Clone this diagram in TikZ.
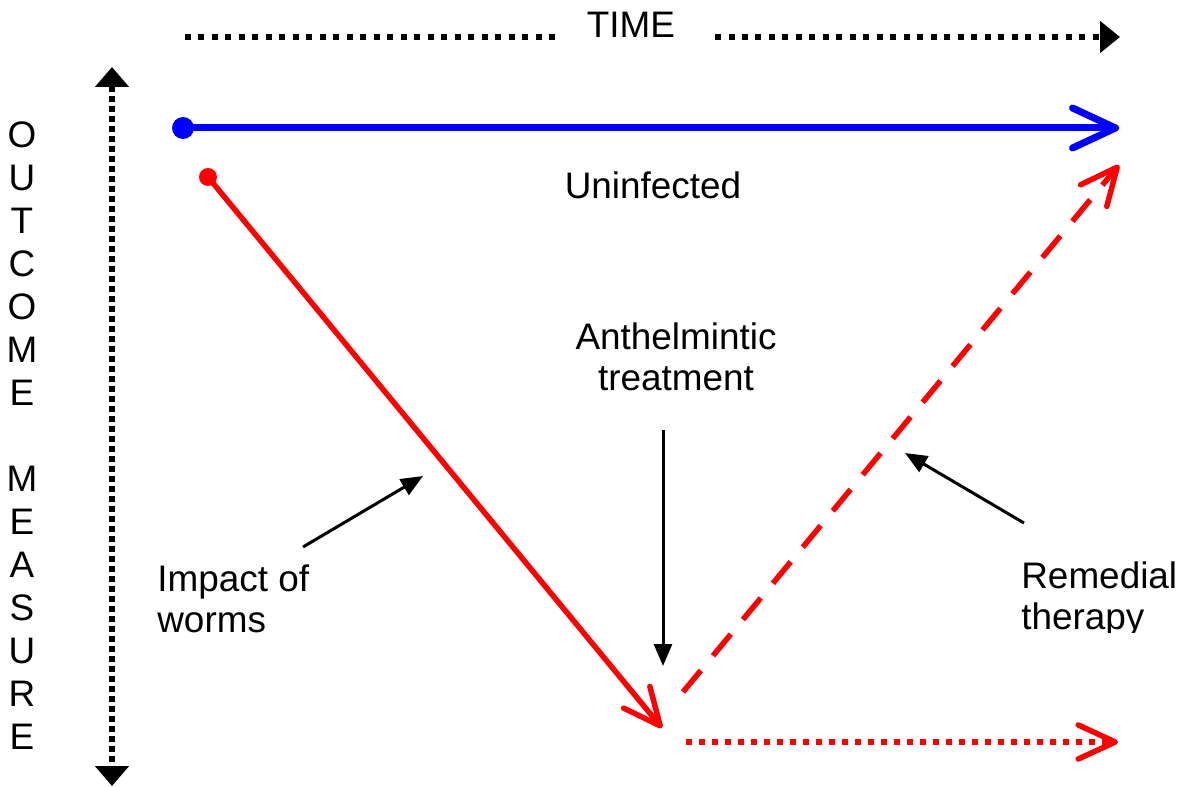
\documentclass[tikz,border=0pt]{standalone}
\usepackage{fontspec}
\setmainfont{Liberation Sans}
\usetikzlibrary{arrows.meta}
\definecolor{pblue}{RGB}{0,0,255}
\definecolor{pred}{RGB}{255,0,0}
\begin{document}
\begin{tikzpicture}[x=0.02cm,y=-0.02cm,
  lbl/.style={font=\fontsize{21}{23.8}\selectfont, inner sep=0pt},
  timeline/.style={line width=0.12cm, dash pattern=on 0.12cm off 0.15cm},
  axisline/.style={line width=0.12cm, dash pattern=on 0.12cm off 0.08cm},
  bighead/.style={-{Triangle[length=0.4cm,width=0.62cm]}},
  blueline/.style={pblue, line width=0.14cm, -{Straight Barb[length=0.86cm,width=0.8cm,round]}},
  redline/.style={pred, line width=0.11cm, -{Straight Barb[length=0.74cm,width=0.68cm,round]}},
  reddash/.style={redline, dash pattern=on 0.56cm off 0.38cm},
  reddot/.style={redline, dash pattern=on 0.12cm off 0.14cm},
  pointer/.style={black, line width=0.06cm, -{Triangle[length=0.44cm,width=0.36cm]}},
  dotnode/.style={circle, inner sep=0pt}
]
\useasboundingbox (0,0) rectangle (1194,787);

% time axis
\node[lbl, anchor=base] (time) at (631,38) {TIME};
\coordinate (tl0) at (185,37);
\coordinate (tl1) at (560,37);
\coordinate (tr0) at (715,37);
\coordinate (tr1) at (1120,37);
\draw[timeline] (tl0) -- (tl1);
\draw[timeline, bighead] (tr0) -- (tr1);

% outcome axis
\coordinate (vtop) at (112,67);
\coordinate (vbot) at (112,786);
\draw[axisline, {Triangle[length=0.4cm,width=0.66cm]}-{Triangle[length=0.4cm,width=0.66cm]}] (vtop) -- (vbot);

\foreach \ch/\yy [count=\i] in {O/135,U/178,T/221,C/264,O/307,M/350,E/393,M/479,E/522,A/565,S/608,U/651,R/694,E/737}
  \node[lbl] (v\i) at (22,\yy) {\ch};

% uninfected
\node[dotnode, fill=pblue, minimum size=0.44cm] (b0) at (183,128) {};
\coordinate (b1) at (1119,128);
\draw[blueline] (b0.center) -- (b1);
\node[lbl, anchor=base] (uninf) at (653,199) {Uninfected};

% impact of worms
\node[dotnode, fill=pred, minimum size=0.36cm] (r0) at (208,177) {};
\coordinate (r1) at (662,728);
\draw[redline] (r0.center) -- (r1);

% remedial
\coordinate (d0) at (683,692);
\coordinate (d1) at (1119,165);
\draw[reddash] (d0) -- (d1);

% untreated continuation
\coordinate (u0) at (686,742);
\coordinate (u1) at (1118,742);
\draw[reddot] (u0) -- (u1);

% labels and pointers
\node[lbl, align=center, anchor=north] (anth) at (676,322) {Anthelmintic\\treatment};
\coordinate (a0) at (663,430);
\coordinate (a1) at (663,666);
\draw[pointer] (a0) -- (a1);

\node[lbl, align=left, anchor=north west] (impact) at (157,564) {Impact of\\worms};
\coordinate (i0) at (303,547);
\coordinate (i1) at (423,476);
\draw[pointer] (i0) -- (i1);

\begin{scope}
  \clip (990,540) rectangle (1194,632);
  \node[lbl, align=left, anchor=north west] (remed) at (1021,561) {Remedial\\therapy};
\end{scope}
\coordinate (m0) at (1024,523);
\coordinate (m1) at (905,453);
\draw[pointer] (m0) -- (m1);
\end{tikzpicture}
\end{document}
